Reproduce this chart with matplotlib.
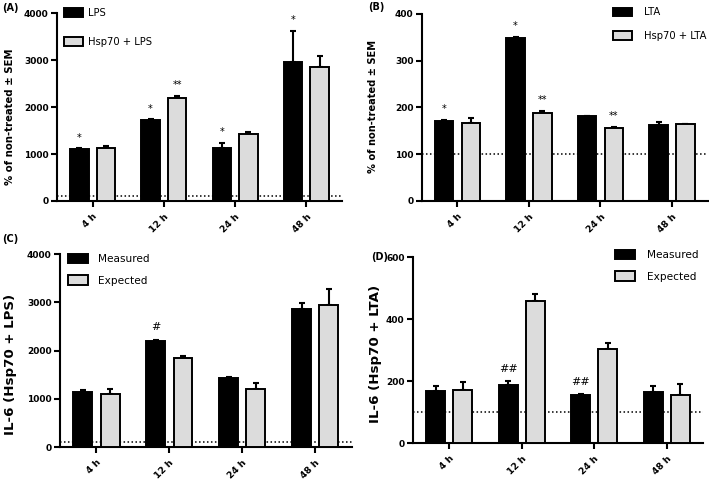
import numpy as np
import matplotlib.pyplot as plt

# data (means and upper SEM)
times = ['4 h', '12 h', '24 h', '48 h']

lps = [1115, 1735, 1130, 2955]
lps_sem = [10, 8, 105, 675]
lps_sig = ['*', '*', '*', '*']
hsp_lps = [1140, 2190, 1428, 2850]
hsp_lps_sem = [30, 50, 38, 250]
hsp_lps_sig = ['', '**', '', '']

lta = [172, 349, 181, 162]
lta_sem = [1, 2, 1, 7]
lta_sig = ['*', '*', '', '']
hsp_lta = [167, 189, 156, 164]
hsp_lta_sem = [10, 4, 3, 1]
hsp_lta_sig = ['', '**', '**', '']

lps_measured = [1140, 2200, 1430, 2860]
lps_measured_sem = [45, 20, 30, 125]
lps_measured_sig = ['', '#', '', '']
lps_expected = [1105, 1840, 1210, 2950]
lps_expected_sem = [90, 55, 115, 335]
lps_expected_sig = ['', '', '', '']

lta_measured = [167, 189, 156, 165]
lta_measured_sem = [17, 10, 1, 18]
lta_measured_sig = ['', '##', '##', '']
lta_expected = [171, 460, 305, 156]
lta_expected_sem = [26, 23, 18, 34]
lta_expected_sig = ['', '', '', '']

GREY = '#dcdcdc'


def panel(ax, a, a_sem, a_sig, b, b_sem, b_sig, labels, ylabel, yticks, ylab_pos, ylab_size,
          leg_anchor, leg_size, leg_spacing, leg_pad, sig_size):
    x = np.arange(len(times))
    off, w = 0.187, 0.26
    for pos, vals, sem, sig, col, lab in [(x - off, a, a_sem, a_sig, 'black', labels[0]),
                                          (x + off, b, b_sem, b_sig, GREY, labels[1])]:
        ax.bar(pos, vals, w, color=col, edgecolor='black', linewidth=1.4, label=lab, zorder=3)
        ax.errorbar(pos, vals, yerr=[np.zeros(len(vals)), sem], fmt='none', ecolor='black',
                    elinewidth=1.5, capsize=2.5, capthick=1.5, zorder=2)
        for p, v, s, t in zip(pos, vals, sem, sig):
            if t:
                ax.annotate(t, xy=(p, v + s), xytext=(0, 5.5 if '*' in t else 7),
                            textcoords='offset points', ha='center', va='baseline', fontsize=sig_size)
    ax.axhline(100, color='black', ls=(0, (1, 1.6)), lw=1.1, zorder=1)

    ax.set_xlim(-0.5, 3.5)
    ax.set_ylim(0, yticks[-1])
    ax.set_yticks(yticks)
    ax.set_xticks(x)
    ax.set_xticklabels(times, rotation=45, ha='right', va='top', rotation_mode='anchor',
                       fontweight='bold', fontsize=6.6)
    ax.set_yticklabels([str(t) for t in yticks], fontweight='bold', fontsize=6.5)
    ax.tick_params(axis='both', width=1.5, length=4, pad=2)
    ax.tick_params(axis='x', pad=4)
    for s in ['top', 'right']:
        ax.spines[s].set_visible(False)
    for s in ['left', 'bottom']:
        ax.spines[s].set_linewidth(1.5)

    ax.set_ylabel(ylabel, fontweight='bold', fontsize=ylab_size)
    ax.yaxis.set_label_coords(ylab_pos[0], ylab_pos[1])
    ax.yaxis.label.set_verticalalignment('center')

    ax.legend(loc='upper left', bbox_to_anchor=leg_anchor, frameon=False, fontsize=leg_size,
              handlelength=1.9, handleheight=1.0, handletextpad=leg_pad, labelspacing=leg_spacing,
              borderpad=0, borderaxespad=0)


fig = plt.figure(figsize=(7.09, 4.82), dpi=100)
ax_a = fig.add_axes([0.0804, 0.583, 0.402, 0.389])
ax_b = fig.add_axes([0.5948, 0.583, 0.4034, 0.388])
ax_c = fig.add_axes([0.0846, 0.0726, 0.4114, 0.4004])
ax_d = fig.add_axes([0.5825, 0.0809, 0.409, 0.385])

panel(ax_a, lps, lps_sem, lps_sig, hsp_lps, hsp_lps_sem, hsp_lps_sig, ['LPS', 'Hsp70 + LPS'],
      '% of non-treated ± SEM', [0, 1000, 2000, 3000, 4000], (-0.165, 0.45), 7.3,
      (0.0246, 1.03), 7.2, 1.9, 0.5, 7)
panel(ax_b, lta, lta_sem, lta_sig, hsp_lta, hsp_lta_sem, hsp_lta_sig, ['LTA', 'Hsp70 + LTA'],
      '% of non-treated ± SEM', [0, 100, 200, 300, 400], (-0.172, 0.508), 7.1,
      (0.668, 1.035), 7.2, 1.35, 1.2, 7)
panel(ax_c, lps_measured, lps_measured_sem, lps_measured_sig, lps_expected, lps_expected_sem,
      lps_expected_sig, ['Measured', 'Expected'], 'IL-6 (Hsp70 + LPS)', [0, 1000, 2000, 3000, 4000],
      (-0.168, 0.43), 9.6, (0.026, 1.0), 7.6, 1.05, 1.0, 8)
panel(ax_d, lta_measured, lta_measured_sem, lta_measured_sig, lta_expected, lta_expected_sem,
      lta_expected_sig, ['Measured', 'Expected'], 'IL-6 (Hsp70 + LTA)', [0, 200, 400, 600],
      (-0.131, 0.48), 9.6, (0.697, 1.04), 7.6, 1.05, 1.1, 8)

for txt, px, py in [('(A)', 2, 8), ('(B)', 368, 7.5), ('(C)', 2, 239), ('(D)', 371, 257)]:
    fig.text(px / 709, 1 - py / 482, txt, fontweight='bold', fontsize=7, ha='left', va='center')

fig.savefig('out.png', dpi=100)
